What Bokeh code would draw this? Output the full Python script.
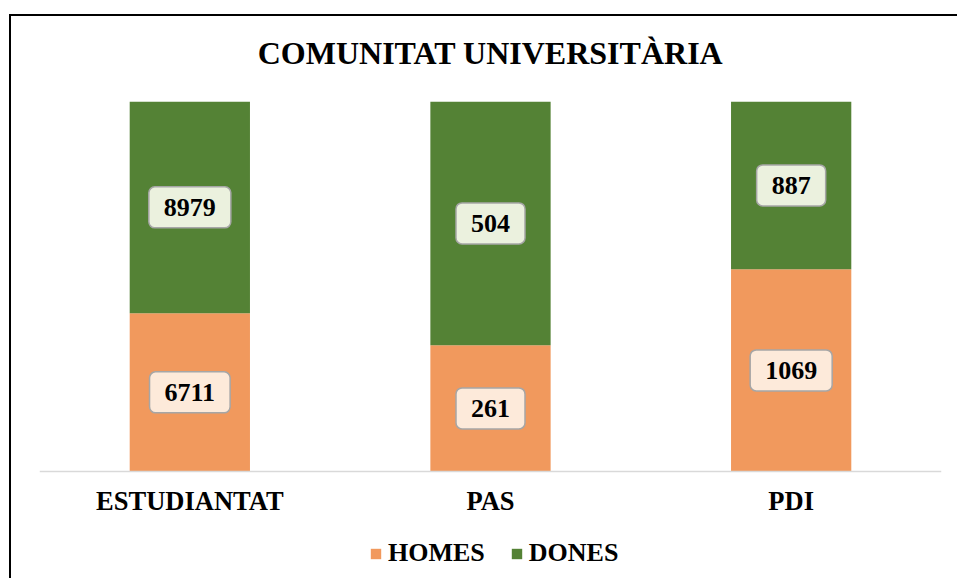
from bokeh.plotting import figure
from bokeh.models import (ColumnDataSource, Range1d, Legend, LegendItem,
                          FactorRange)
from bokeh.core.properties import value
from bokeh.embed import file_html
from bokeh.resources import INLINE

# ---- data ----
categories = ["ESTUDIANTAT", "PAS", "PDI"]
homes = [6711, 261, 1069]
dones = [8979, 504, 887]
series_labels = ["HOMES", "DONES"]
title_text = "COMUNITAT UNIVERSITÀRIA"

FONT = "Liberation Serif"
ORANGE = "#F1995D"
GREEN = "#548235"

totals = [h + d for h, d in zip(homes, dones)]
homes_pct = [h / t for h, t in zip(homes, totals)]
dones_pct = [d / t for d, t in zip(dones, totals)]

src = ColumnDataSource(dict(cat=categories, homes=homes_pct, dones=dones_pct))

p = figure(x_range=FactorRange(*categories), y_range=Range1d(-0.2892, 1),
           width=957, height=578, output_backend="svg", toolbar_location=None,
           min_border_left=39, min_border_right=16, min_border_top=101,
           min_border_bottom=0)
p.border_fill_color = None
p.background_fill_color = None
# chart-area border (left and top edges) drawn behind the transparent canvas
p.styles = {
    "background-image": "linear-gradient(#000, #000), linear-gradient(#000, #000)",
    "background-size": "2px 100%, 100% 2px",
    "background-position": "9px 14px, 9px 14px",
    "background-repeat": "no-repeat",
}

p.title.text = title_text
p.title.align = "center"
p.title.text_font = FONT
p.title.text_font_size = "32px"
p.title.text_font_style = "bold"
p.title.text_color = "black"
p.title.standoff = 62

rs = p.vbar_stack(["homes", "dones"], x="cat", width=0.4, source=src,
                  color=[ORANGE, GREEN], line_width=0)

# data labels
lab_h = ColumnDataSource(dict(cat=categories, y=[v / 2 for v in homes_pct],
                              txt=[str(v) for v in homes]))
lab_d = ColumnDataSource(dict(cat=categories,
                              y=[h + d / 2 for h, d in zip(homes_pct, dones_pct)],
                              txt=[str(v) for v in dones]))
for s, fill in ((lab_h, "#FDEADA"), (lab_d, "#EBF1DE")):
    p.text(x="cat", y="y", text="txt", source=s, text_align="center",
           text_baseline="middle", text_font=value(FONT), text_font_size="26px",
           text_font_style="bold", text_color="black",
           background_fill_color=fill, border_line_color="#A6A6A6",
           border_line_width=1.5, border_radius=6,
           padding=dict(left=15, right=15, top=12, bottom=12))

# axes
p.yaxis.visible = False
p.xgrid.visible = False
p.ygrid.visible = False
p.outline_line_color = None
xa = p.xaxis[0]
xa.fixed_location = 0
xa.axis_line_color = "#D9D9D9"
xa.axis_line_width = 1.5
xa.major_tick_line_color = None
xa.minor_tick_line_color = None
xa.major_tick_out = 0
xa.major_tick_in = 0
xa.major_label_standoff = 15
xa.major_label_text_font = FONT
xa.major_label_text_font_size = "26.5px"
xa.major_label_text_font_style = "bold"
xa.major_label_text_color = "black"

legend = Legend(items=[LegendItem(label=series_labels[0], renderers=[rs[0]]),
                       LegendItem(label=series_labels[1], renderers=[rs[1]])],
                orientation="horizontal", location=(330, 10),
                glyph_width=13, glyph_height=13, label_standoff=6, spacing=25,
                padding=0, margin=0, border_line_color=None,
                background_fill_alpha=0,
                label_text_font=FONT, label_text_font_size="26px",
                label_text_font_style="bold", label_text_color="black")
p.add_layout(legend, "center")

open("out.html", "w").write(file_html(p, INLINE))
